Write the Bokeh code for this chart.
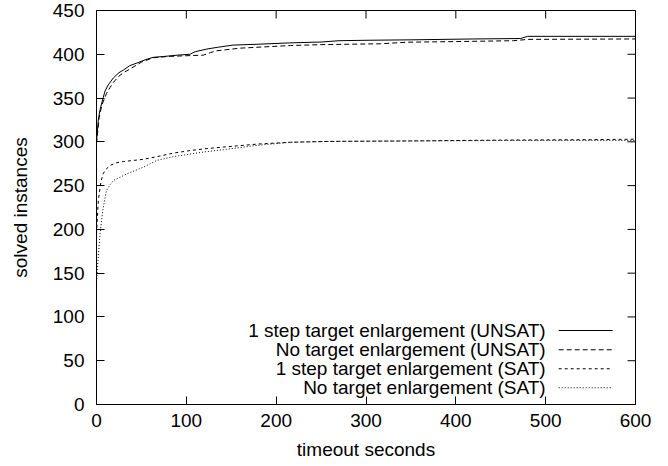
import math
from bokeh.plotting import figure
from bokeh.models import Range1d, FixedTicker
from bokeh.core.properties import value
from bokeh.embed import file_html
from bokeh.resources import INLINE

# ---- data ----
t_unsat_1step = [0, 2, 4, 7.6, 9.5, 13, 18.8, 25, 30, 37, 45, 55, 63, 75, 90, 104, 110, 123, 135, 152, 180, 215, 250, 270, 300, 350, 420, 472, 480, 600]
v_unsat_1step = [300, 325, 337, 351, 358, 365, 373, 379, 382, 387, 390, 394, 396.5, 397.5, 399, 400, 403, 406, 408, 410.5, 411.5, 413, 414, 415.5, 416, 416.5, 417.5, 418, 420.5, 420.5]

t_unsat_none = [0, 3, 6, 11, 15, 18.8, 25, 30, 37, 50, 63, 80, 104, 119, 127, 134, 160, 216, 250, 316, 346, 400, 464, 480, 600]
v_unsat_none = [298, 328, 342, 355, 362, 368, 375, 379, 383, 391, 396, 397.5, 398.5, 399, 402, 404, 407, 410, 411, 412, 413.8, 414.5, 415.5, 417, 417.5]

t_sat_1step = [0, 2, 5, 7.6, 10, 15, 22, 30, 52, 67, 85, 104, 120, 141, 180, 216, 260, 350, 450, 550, 600]
v_sat_1step = [195, 233, 255, 264, 268, 273, 276, 277.5, 280, 283, 287, 290, 292, 294, 297.5, 299.5, 300.5, 301, 302, 302.5, 303]

t_sat_none = [0, 2, 4, 7, 11, 15, 19, 27, 34, 52, 67, 85, 104, 120, 141, 160, 179, 216, 260, 350, 450, 600]
v_sat_none = [140, 170, 195, 222, 244, 251, 256, 260, 263.5, 271, 278.7, 283, 286, 288.5, 291, 293.5, 296, 299.5, 300.5, 301, 301.5, 301.5]

series_labels = [
    "1 step target enlargement (UNSAT)",
    "No target enlargement (UNSAT)",
    "1 step target enlargement (SAT)",
    "No target enlargement (SAT)",
]
x_ticks = [0, 100, 200, 300, 400, 500, 600]
y_ticks = [0, 50, 100, 150, 200, 250, 300, 350, 400, 450]

FONT = "Liberation Sans"
FS = "19px"
X_MIN, X_MAX = 0, 600
Y_MIN, Y_MAX = 0, 450

p = figure(width=668, height=466, output_backend="svg", toolbar_location=None,
           x_range=Range1d(X_MIN, X_MAX), y_range=Range1d(Y_MIN, Y_MAX),
           min_border_left=96, min_border_right=33, min_border_top=10, min_border_bottom=62)
p.xgrid.visible = False
p.ygrid.visible = False
p.outline_line_color = "black"
p.outline_line_width = 1
p.background_fill_color = "white"
p.border_fill_color = "white"

for ax, ticks in ((p.xaxis[0], x_ticks), (p.yaxis[0], y_ticks)):
    ax.ticker = FixedTicker(ticks=ticks)
    ax.axis_line_color = "black"
    ax.major_tick_in = 8
    ax.major_tick_out = 0
    ax.major_tick_line_color = "black"
    ax.minor_tick_line_color = None
    ax.major_label_text_font = FONT
    ax.major_label_text_font_size = FS
    ax.major_label_text_color = "black"
    ax.axis_label_text_font = FONT
    ax.axis_label_text_font_size = FS
    ax.axis_label_text_font_style = "normal"
    ax.axis_label_text_color = "black"

p.xaxis[0].axis_label = "timeout seconds"
p.yaxis[0].axis_label = "solved instances"
p.xaxis[0].major_label_standoff = 9
p.yaxis[0].major_label_standoff = 12
p.xaxis[0].axis_label_standoff = 9
p.yaxis[0].axis_label_standoff = 19

# mirrored inward ticks on top and right (gnuplot style)
p.ray(x=x_ticks, y=[Y_MAX] * len(x_ticks), length=8, length_units="screen",
      angle=-math.pi / 2, line_color="black", line_width=1)
p.ray(x=[X_MAX] * len(y_ticks), y=y_ticks, length=8, length_units="screen",
      angle=math.pi, line_color="black", line_width=1)

styles = [
    dict(line_dash="solid"),
    dict(line_dash="5 3"),
    dict(line_dash="3 3"),
    dict(line_dash="1 2"),
]
data = [
    (t_unsat_1step, v_unsat_1step),
    (t_unsat_none, v_unsat_none),
    (t_sat_1step, v_sat_1step),
    (t_sat_none, v_sat_none),
]
for (tx, vy), st in zip(data, styles):
    p.line(tx, vy, line_color="black", line_width=1, **st)

# legend (gnuplot style: right-aligned text, sample to the right)
leg_text_x = 500
leg_x0, leg_x1 = 514.5, 574.5
leg_rows = [84.5, 62.5, 40.8, 19.1]
p.text(x=[leg_text_x] * 4, y=leg_rows, text=series_labels,
       text_align="right", text_baseline="middle",
       text_font=value(FONT), text_font_size=value(FS), text_color="black")
for yy, st in zip(leg_rows, styles):
    p.line([leg_x0, leg_x1], [yy, yy], line_color="black", line_width=1, **st)

open("out.html", "w").write(file_html(p, INLINE))
